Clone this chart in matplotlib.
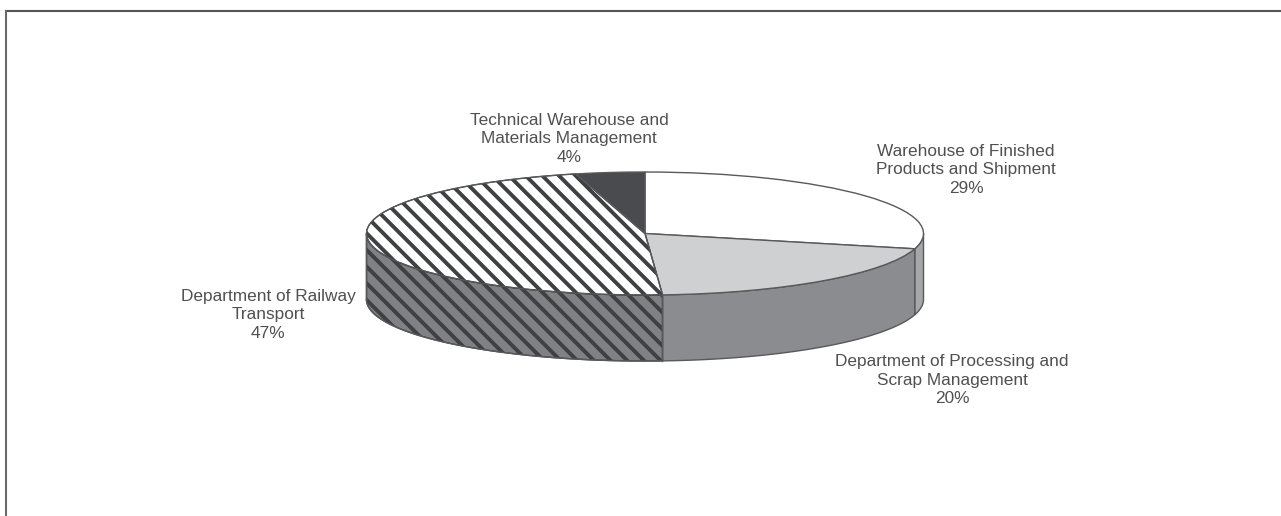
import numpy as np
import matplotlib
matplotlib.use("Agg")
import matplotlib.pyplot as plt

# Share of each department, clockwise from twelve o'clock
departments = [
    "Warehouse of Finished\nProducts and Shipment",
    "Department of Processing and\nScrap Management",
    "Department of Railway\nTransport",
    "Technical Warehouse and\nMaterials Management",
]
shares = [29, 20, 47, 4]

top_colors = ["#ffffff", "#cfd0d2", "#ffffff", "#4a4b4e"]
side_colors = ["#a6a7aa", "#8b8c8f", "#808185", "#3c3d40"]
hatches = [None, None, "\\\\", None]
label_centres = [(966, 170), (952, 380), (268, 315), (569, 139)]

W, H = 1281, 516
CX, CY, RX, RY, DEPTH = 645, 233.5, 278.5, 61.5, 66
TEXT = "#505050"
EDGE = "#58595b"
STRIPE = "#3f4042"

plt.rcParams["font.family"] = ["Liberation Sans", "DejaVu Sans"]
plt.rcParams["hatch.linewidth"] = 2.8

fig = plt.figure(figsize=(W / 100, H / 100), dpi=100, facecolor="white")
ax = fig.add_axes([0, 0, 1, 1])

wedges, _ = ax.pie(
    shares, startangle=90, counterclock=False, colors=top_colors,
    radius=1, wedgeprops={"linewidth": 1.0, "edgecolor": EDGE, "zorder": 3},
)
for wedge, hatch in zip(wedges, hatches):
    if hatch:
        wedge.set_hatch(hatch)
        wedge.set_edgecolor(STRIPE)

# One unit on each axis spans the ellipse radius, which gives the tilted look
ax.set_aspect("auto")
ax.set_xlim(-CX / RX, (W - CX) / RX)
ax.set_ylim((CY - H) / RY, CY / RY)
ax.axis("off")

# Rim: the part of each slice facing the viewer, lowered by the disc thickness
depth = DEPTH / RY
edges = np.cumsum([0] + shares) / sum(shares) * 2 * np.pi
for i in range(len(shares)):
    lo, hi = max(edges[i], np.pi / 2), min(edges[i + 1], 3 * np.pi / 2)
    if hi <= lo:
        continue
    t = np.linspace(lo, hi, 80)
    x, y = np.sin(t), np.cos(t)
    ax.fill(
        np.r_[x, x[::-1]], np.r_[y, y[::-1] - depth],
        facecolor=side_colors[i],
        edgecolor=STRIPE if hatches[i] else EDGE,
        hatch=hatches[i], linewidth=1.0, zorder=2,
    )

# Crisp outline on top of the hatched slice and its rim
for i in range(len(shares)):
    if hatches[i]:
        t = np.linspace(edges[i], edges[i + 1], 120)
        ax.plot(np.r_[0, np.sin(t), 0], np.r_[0, np.cos(t), 0],
                color=EDGE, lw=0.8, zorder=4)
        t = np.linspace(edges[i], 3 * np.pi / 2, 120)
        x, y = np.sin(t), np.cos(t)
        ax.plot(x, y - depth, color=EDGE, lw=1.0, zorder=4)
        ax.plot([x[0], x[0]], [y[0], y[0] - depth], color=EDGE, lw=1.0, zorder=4)
        ax.plot([x[-1], x[-1]], [y[-1], y[-1] - depth], color=EDGE, lw=1.0, zorder=4)

for name, share, (px, py) in zip(departments, shares, label_centres):
    fig.text(px / W, 1 - py / H, f"{name}\n{share}%", ha="center", va="center",
             fontsize=12.4, color=TEXT, linespacing=1.33)

# Frame along the top and left, running off the other two sides
fig.add_artist(plt.Line2D([5.5 / W, 1], [1 - 10.5 / H] * 2, color="#555555", lw=1.5))
fig.add_artist(plt.Line2D([5.5 / W] * 2, [0, 1 - 10.5 / H], color="#6a6a6a", lw=1.5))

fig.savefig("out.png", dpi=100)
